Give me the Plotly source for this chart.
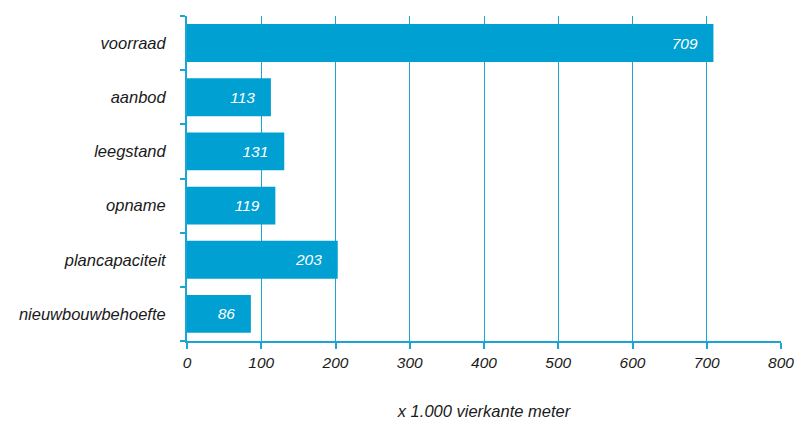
import plotly.graph_objects as go

# Categories (top to bottom) and their values in x 1.000 m2
categories = ["voorraad", "aanbod", "leegstand", "opname", "plancapaciteit", "nieuwbouwbehoefte"]
values = [709, 113, 131, 119, 203, 86]
x_ticks = [0, 100, 200, 300, 400, 500, 600, 700, 800]

BAR = "#00a0d2"
LINE = "#1ba5d6"
FONT = "Liberation Sans, Arial, sans-serif"

fig = go.Figure(
    go.Bar(
        x=values,
        y=categories,
        orientation="h",
        marker=dict(color=BAR, line=dict(width=0)),
        text=[str(v) for v in values],
        texttemplate="%{text}   ",
        textposition="inside",
        insidetextanchor="end",
        textfont=dict(family=FONT, size=15.5, color="white", style="italic"),
        hoverinfo="skip",
    )
)

fig.update_layout(
    width=796,
    height=421,
    margin=dict(l=187, r=15, t=16, b=80, autoexpand=False),
    paper_bgcolor="white",
    plot_bgcolor="white",
    bargap=0.3,
    showlegend=False,
    font=dict(family=FONT, size=15, color="#1a1a1a"),
)

fig.update_xaxes(
    range=[0, 800],
    tickvals=x_ticks,
    ticktext=[str(t) for t in x_ticks],
    tickfont=dict(family=FONT, size=15.5, color="#1a1a1a", style="italic"),
    showgrid=True,
    gridcolor=LINE,
    gridwidth=1,
    zeroline=False,
    showline=True,
    linecolor=LINE,
    linewidth=2,
    ticks="outside",
    ticklen=6,
    tickcolor=LINE,
    tickwidth=2,
    automargin=False,
    title=dict(
        text="x 1.000 vierkante meter",
        font=dict(family=FONT, size=16.5, color="#1a1a1a", style="italic"),
        standoff=36,
    ),
)

fig.update_yaxes(
    categoryorder="array",
    categoryarray=categories[::-1],
    tickfont=dict(family=FONT, size=16.5, color="#1a1a1a", style="italic"),
    showgrid=False,
    zeroline=False,
    showline=True,
    linecolor=LINE,
    linewidth=2,
    ticks="outside",
    tickson="boundaries",
    ticklen=5,
    tickcolor=LINE,
    tickwidth=2,
    ticklabelstandoff=16,
    automargin=False,
)

fig.write_html("out.html")
